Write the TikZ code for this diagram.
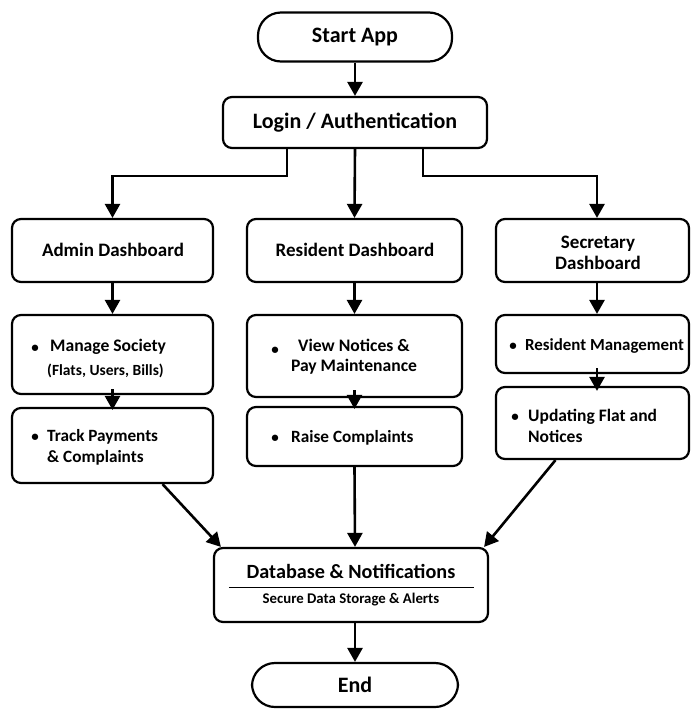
\documentclass[tikz,border=0pt]{standalone}
\usepackage{fontspec}
\setmainfont{Carlito}
\usetikzlibrary{arrows.meta}
\begin{document}
\begin{tikzpicture}[x=1pt,y=-1pt,
 box/.style={draw, line width=2.2pt, rounded corners=9pt, inner sep=0pt},
 term/.style={draw, line width=2.2pt, rounded corners=23pt, inner sep=0pt},
 arr/.style={line width=2.6pt, -{Triangle[length=14pt,width=15pt]}},
 lbl/.style={font=\bfseries, inner sep=0pt},
 big/.style={lbl, font=\bfseries\fontsize{22}{24}\selectfont},
 mid/.style={lbl, font=\bfseries\fontsize{19}{22}\selectfont},
 itm/.style={lbl, font=\bfseries\fontsize{17.2}{21}\selectfont},
 sml/.style={lbl, font=\bfseries\fontsize{15.5}{18}\selectfont},
 bul/.style={lbl, font=\bfseries\fontsize{15}{18}\selectfont},
]
\useasboundingbox (0,0) rectangle (691,710);
% boxes
\node[term, minimum width=194pt, minimum height=49pt] (start) at (355,37) {};
\node[box, minimum width=264pt, minimum height=51pt] (login) at (355,122.5) {};
\node[box, minimum width=201pt, minimum height=63pt] (admin) at (112.5,250.5) {};
\node[box, minimum width=215pt, minimum height=63pt] (resd) at (354.5,250.5) {};
\node[box, minimum width=193pt, minimum height=63pt] (secd) at (592.5,250.5) {};
\node[box, minimum width=201pt, minimum height=79pt] (manage) at (112.5,354.5) {};
\node[box, minimum width=201pt, minimum height=75pt] (track) at (112.5,445.5) {};
\node[box, minimum width=215pt, minimum height=82pt] (view) at (354.5,356) {};
\node[box, minimum width=215pt, minimum height=59pt] (raise) at (354.5,436.5) {};
\node[box, minimum width=193pt, minimum height=58pt] (resm) at (592.5,344) {};
\node[box, minimum width=193pt, minimum height=72pt] (upd) at (592.5,423) {};
\node[box, minimum width=274pt, minimum height=74pt] (db) at (351,585) {};
\node[term, minimum width=206pt, minimum height=44pt] (end) at (355,685) {};
% texts
\node[big] (tstart) at (355,37) {Start App};
\node[big] (tlogin) at (355,122.5) {Login / Authentication};
\node[mid] (tadmin) at (113,250) {Admin Dashboard};
\node[mid] (tresd) at (355,250) {Resident Dashboard};
\node[mid, align=center, font=\bfseries\fontsize{19}{21}\selectfont] (tsecd) at (598,253) {Secretary\\Dashboard};
\node[bul] (b1) at (35,349) {•};
\node[itm, font=\bfseries\fontsize{17.6}{21}\selectfont, anchor=west] (t1) at (50,347) {Manage Society};
\node[sml, anchor=west] (t1b) at (47,371) {(Flats, Users, Bills)};
\node[bul] (b2) at (35,438) {•};
\node[itm, anchor=west, align=left] (t2) at (47,447.5) {Track Payments\\\& Complaints};
\node[bul] (b3) at (275,351) {•};
\node[itm, align=center, font=\bfseries\fontsize{17.6}{20}\selectfont] (t3) at (354,356.5) {View Notices \&\\Pay Maintenance};
\node[bul] (b4) at (275,439) {•};
\node[itm, anchor=west] (t4) at (291,438) {Raise Complaints};
\node[bul] (b5) at (513,347) {•};
\node[itm, anchor=west, font=\bfseries\fontsize{16.9}{20}\selectfont] (t5) at (525,346) {Resident Management};
\node[bul] (b6) at (515,418) {•};
\node[itm, anchor=west, align=left, font=\bfseries\fontsize{17.5}{21}\selectfont] (t6) at (528,425.5) {Updating Flat and\\Notices};
\node[big, font=\bfseries\fontsize{20.2}{24}\selectfont] (tdb) at (351,571) {Database \& Notifications};
\node[sml, font=\bfseries\fontsize{14.8}{18}\selectfont] (tdb2) at (351,600) {Secure Data Storage \& Alerts};
\node[big] (tend) at (355,685) {End};
\draw[line width=1pt] ([xshift=16pt,yshift=-2pt]db.west) -- ([xshift=-15pt,yshift=-2pt]db.east);
% arrows
\draw[arr] (start.south) -- (login.north);
\draw[arr] ([xshift=-68pt]login.south) -- ++(0,27) -| (admin.north);
\draw[arr] ([xshift=68pt]login.south) -- ++(0,27) -| ([xshift=4.5pt]secd.north);
\draw[arr] (login.south) -- (resd.north);
\draw[arr] (admin.south) -- (manage.north);
\draw[arr] (resd.south) -- (view.north);
\draw[arr] ([xshift=4.5pt]secd.south) -- ([xshift=4.5pt]resm.north);
\draw[arr] ([yshift=6pt]manage.south) -- ([yshift=-3pt]track.north);
\draw[arr] ([yshift=8pt]view.south) -- ([yshift=-3pt]raise.north);
\draw[arr] ([xshift=4.5pt,yshift=6pt]resm.south) -- ([xshift=4.5pt,yshift=-5pt]upd.north);
\draw[arr] ([xshift=50pt]track.south) -- ([xshift=8pt]db.north west);
\draw[arr] (raise.south) -- ([xshift=4pt]db.north);
\draw[arr] ([xshift=-37pt]upd.south) -- ([xshift=-5pt]db.north east);
\draw[arr] ([xshift=4pt]db.south) -- ([xshift=0pt]end.north);
\end{tikzpicture}
\end{document}
